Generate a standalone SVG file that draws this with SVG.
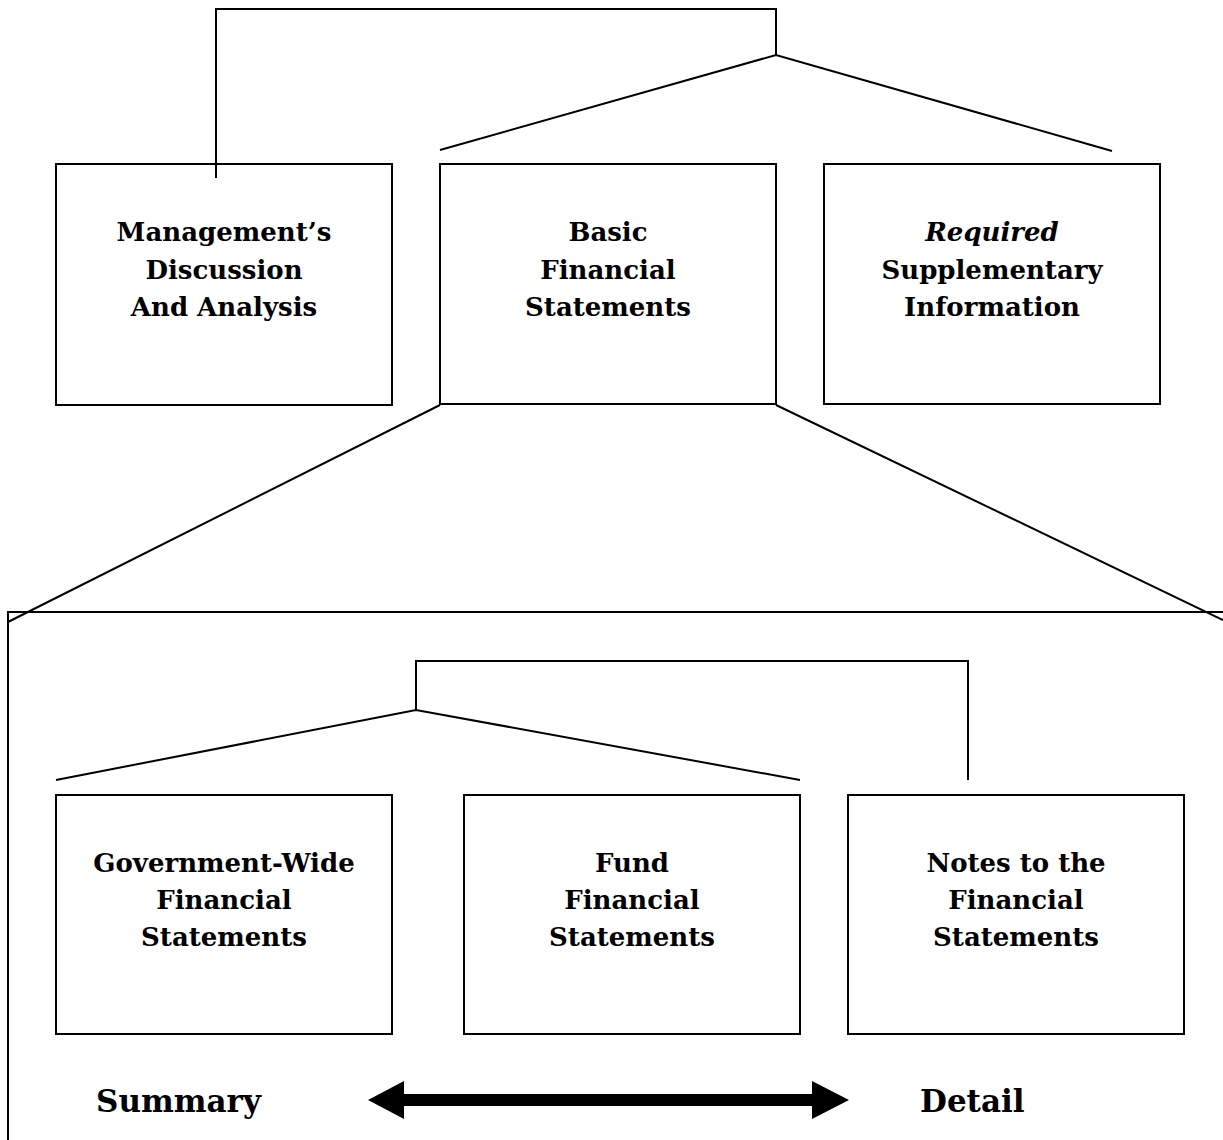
<svg xmlns="http://www.w3.org/2000/svg" width="1223" height="1140" viewBox="0 0 1223 1140">
<style>
.box{fill:#fff;stroke:#000;stroke-width:2}
.ln{fill:none;stroke:#000;stroke-width:2}
.t{font-family:"DejaVu Serif","Liberation Serif",serif;font-weight:bold;font-size:26px;text-anchor:middle;fill:#000}
.big{font-family:"DejaVu Serif","Liberation Serif",serif;font-weight:bold;font-size:31px;fill:#000}
</style>
<rect width="1223" height="1140" fill="#fff"/>
<g id="container"><rect class="box" x="8" y="612" width="1230" height="540"/></g>
<g id="mdna"><rect class="box" x="56" y="164" width="336" height="241"/>
<text class="t" x="224" y="241">Management’s</text><text class="t" x="224" y="279">Discussion</text><text class="t" x="224" y="316">And Analysis</text></g>
<g id="bfs"><rect class="box" x="440" y="164" width="336" height="240"/>
<text class="t" x="608" y="241">Basic</text><text class="t" x="608" y="279">Financial</text><text class="t" x="608" y="316">Statements</text></g>
<g id="rsi"><rect class="box" x="824" y="164" width="336" height="240"/>
<text class="t" x="992" y="241" font-style="italic">Required</text><text class="t" x="992" y="279">Supplementary</text><text class="t" x="992" y="316">Information</text></g>
<g id="gwfs"><rect class="box" x="56" y="795" width="336" height="239"/>
<text class="t" x="224" y="872">Government-Wide</text><text class="t" x="224" y="909">Financial</text><text class="t" x="224" y="946">Statements</text></g>
<g id="ffs"><rect class="box" x="464" y="795" width="336" height="239"/>
<text class="t" x="632" y="872">Fund</text><text class="t" x="632" y="909">Financial</text><text class="t" x="632" y="946">Statements</text></g>
<g id="notes"><rect class="box" x="848" y="795" width="336" height="239"/>
<text class="t" x="1016" y="872">Notes to the</text><text class="t" x="1016" y="909">Financial</text><text class="t" x="1016" y="946">Statements</text></g>
<g id="connectors">
<polyline class="ln" points="216,178 216,9 776,9 776,55"/>
<polyline class="ln" points="440,150 776,55 1112,151"/>
<line class="ln" x1="440" y1="405" x2="8" y2="622"/>
<line class="ln" x1="776" y1="405" x2="1223" y2="620"/>
<polyline class="ln" points="416,710 416,661 968,661 968,780"/>
<polyline class="ln" points="56,780 416,710 800,780"/>
</g>
<g id="scale">
<text class="big" x="96" y="1112">Summary</text>
<text class="big" x="920" y="1112">Detail</text>
<polygon fill="#000" points="368,1100 404,1081 404,1094 812,1094 812,1081 849,1100 812,1119 812,1106 404,1106 404,1119"/>
</g>
</svg>
